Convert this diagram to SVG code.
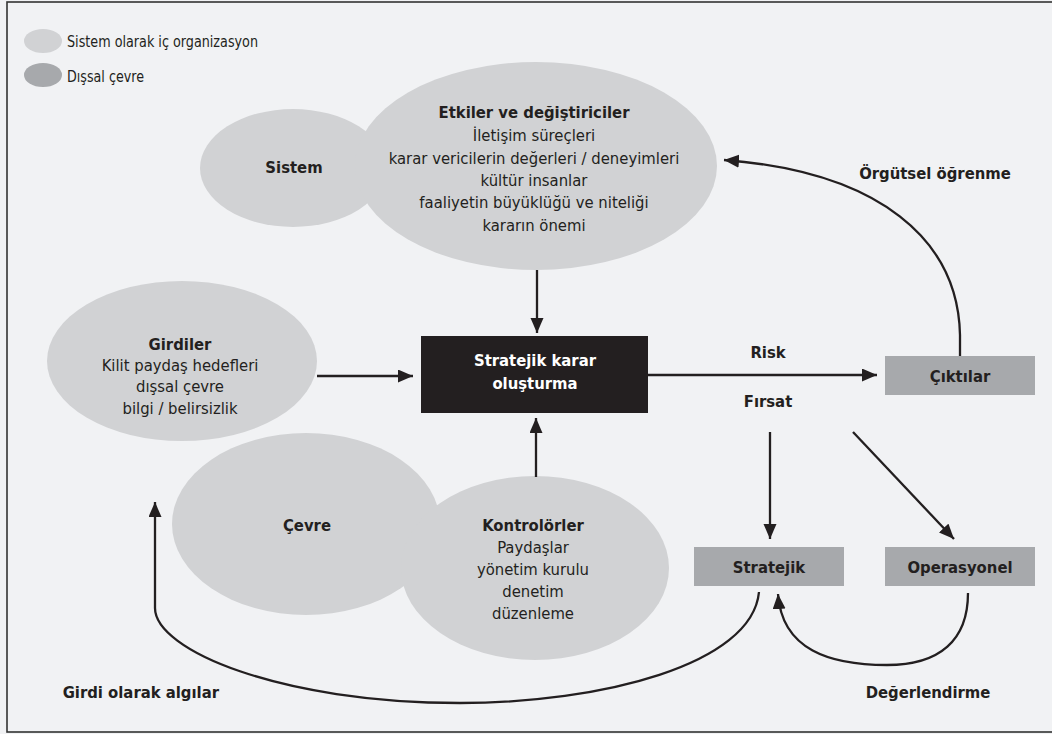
<svg xmlns="http://www.w3.org/2000/svg" width="1052" height="734" viewBox="0 0 1052 734">
<defs>
<marker id="ah" markerUnits="userSpaceOnUse" markerWidth="16" markerHeight="14" refX="15" refY="6.5" orient="auto">
<path d="M0,0 L15,6.5 L0,13 z" fill="#231f20"/>
</marker>
<style>
text{font-family:"Liberation Sans Narrow","DejaVu Sans Condensed","Liberation Sans",sans-serif;fill:#231f20;font-size:16.5px;text-anchor:middle}
.b{font-weight:bold}
.w{fill:#ffffff}
.l{text-anchor:start}
.e{text-anchor:end}
.sys{fill:#d1d2d4}
.ext{fill:#a7a9ac}
.box{fill:#a7a9ac}
.con{fill:none;stroke:#231f20;stroke-width:2.3}
</style>
</defs>
<rect x="0" y="0" width="1052" height="734" fill="#f1f2f4"/>
<rect x="7" y="2" width="1060" height="730" fill="none" stroke="#333333" stroke-width="1.6"/>

<g id="legend">
<ellipse class="sys" cx="43" cy="41" rx="19" ry="12"/>
<text class="l" x="67" y="47" textLength="191" lengthAdjust="spacingAndGlyphs">Sistem olarak iç organizasyon</text>
<ellipse class="ext" cx="43" cy="75" rx="19" ry="12"/>
<text class="l" x="67" y="82" textLength="77" lengthAdjust="spacingAndGlyphs">Dışsal çevre</text>
</g>

<g id="sistem">
<ellipse class="sys" cx="293" cy="168" rx="93" ry="59"/>
<text class="b" x="294" y="173">Sistem</text>
</g>

<g id="etkiler">
<ellipse class="sys" cx="536" cy="166" rx="181" ry="104"/>
<text class="b" x="534" y="118">Etkiler ve değiştiriciler</text>
<text x="534" y="141">İletişim süreçleri</text>
<text x="534" y="164">karar vericilerin değerleri / deneyimleri</text>
<text x="534" y="186">kültür insanlar</text>
<text x="534" y="208">faaliyetin büyüklüğü ve niteliği</text>
<text x="534" y="231">kararın önemi</text>
</g>

<g id="cevre">
<ellipse class="sys" cx="306" cy="524" rx="134" ry="91"/>
<text class="b" x="307" y="531">Çevre</text>
</g>

<g id="girdiler">
<ellipse class="sys" cx="182" cy="361" rx="135" ry="80"/>
<text class="b" x="180" y="350">Girdiler</text>
<text x="180" y="371">Kilit paydaş hedefleri</text>
<text x="180" y="392">dışsal çevre</text>
<text x="180" y="414">bilgi / belirsizlik</text>
</g>

<g id="kontrolorler">
<ellipse class="sys" cx="535" cy="568" rx="134" ry="92"/>
<text class="b" x="533" y="531">Kontrolörler</text>
<text x="533" y="553">Paydaşlar</text>
<text x="533" y="575">yönetim kurulu</text>
<text x="533" y="597">denetim</text>
<text x="533" y="619">düzenleme</text>
</g>

<g id="karar">
<rect x="421" y="336" width="227" height="77" fill="#231f20"/>
<text class="b w" x="535" y="366">Stratejik karar</text>
<text class="b w" x="535" y="389">oluşturma</text>
</g>

<g id="ciktilar">
<rect class="box" x="885" y="356" width="150" height="39"/>
<text class="b" x="960" y="382">Çıktılar</text>
</g>

<g id="stratejik">
<rect class="box" x="694" y="547" width="150" height="39"/>
<text class="b" x="769" y="573">Stratejik</text>
</g>

<g id="operasyonel">
<rect class="box" x="885" y="547" width="150" height="39"/>
<text class="b" x="960" y="573">Operasyonel</text>
</g>

<g id="connectors">
<line class="con" x1="537" y1="270" x2="537" y2="333" marker-end="url(#ah)"/>
<line class="con" x1="317" y1="376" x2="413" y2="376" marker-end="url(#ah)"/>
<line class="con" x1="536" y1="477" x2="536" y2="418" marker-end="url(#ah)"/>
<line class="con" x1="648" y1="375" x2="877" y2="375" marker-end="url(#ah)"/>
<path class="con" d="M960,356 V335 C958,240 880,172 724,160" marker-end="url(#ah)"/>
<line class="con" x1="770" y1="432" x2="770" y2="539" marker-end="url(#ah)"/>
<line class="con" x1="853" y1="432" x2="954" y2="539" marker-end="url(#ah)"/>
<path class="con" d="M759,592 C752,665 600,703 460,703 C280,703 155,650 155,608 V502" marker-end="url(#ah)"/>
<path class="con" d="M968,593 C968,640 940,665 887,665 C830,665 782,650 778,594" marker-end="url(#ah)"/>
</g>

<g id="labels">
<text class="b" x="768" y="358">Risk</text>
<text class="b" x="768" y="407">Fırsat</text>
<text class="b" x="935" y="179">Örgütsel öğrenme</text>
<text class="b e" x="219" y="698">Girdi olarak algılar</text>
<text class="b" x="928" y="698">Değerlendirme</text>
</g>
</svg>
